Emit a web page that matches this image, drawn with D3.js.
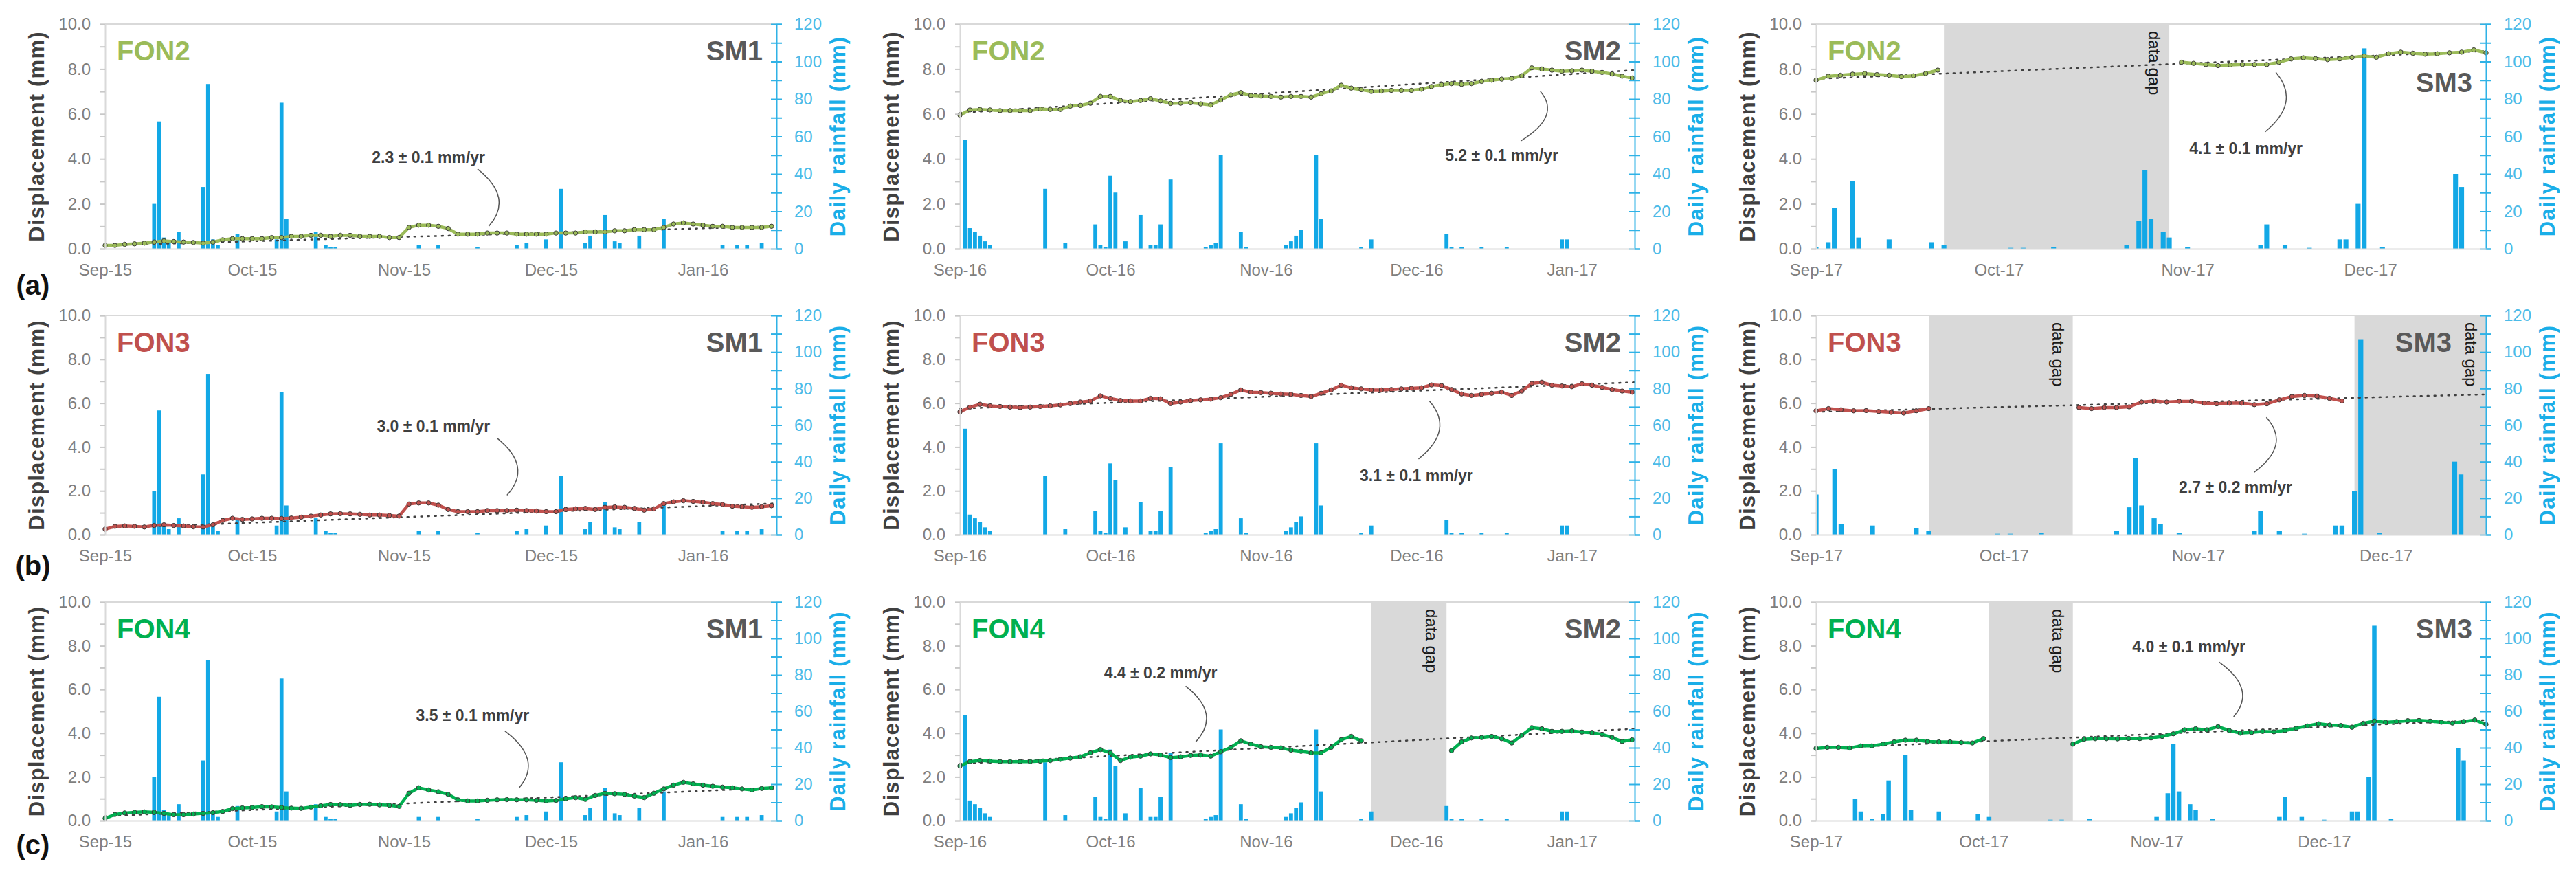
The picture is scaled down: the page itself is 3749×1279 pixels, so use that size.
<!DOCTYPE html>
<html>
<head>
<meta charset="utf-8">
<script src="https://cdn.jsdelivr.net/npm/d3@7"></script>
<style>
  body { margin: 0; background: #fff; }
  svg text { font-family: "Liberation Sans", Arial, sans-serif; }
</style>
</head>
<body>
<svg id="chart"></svg>
<script>
const width = 3749, height = 1279;

const stations = ["FON2", "FON3", "FON4"];
const campaigns = ["SM1", "SM2", "SM3"];
const campaignStart = ["2015-09-01", "2016-09-01", "2017-09-01"];
const rowLetters = ["(a)", "(b)", "(c)"];

// length of each panel's date axis in days [row][col]
const axisDays = [[137, 134.5, 110], [137, 134.5, 107], [137, 134.5, 120]];
// the rainfall bars sit on their own date axis, shifted by this many days
const rainAxisShift = [[0, 0, 0], [0, 0, 3], [0, 0, -10]];

// daily rainfall (mm)
const rainSM1 = [
  ["2015-09-11", 24], ["2015-09-12", 68], ["2015-09-13", 6], ["2015-09-14", 3], ["2015-09-16", 9],
  ["2015-09-21", 33], ["2015-09-22", 88], ["2015-09-23", 5], ["2015-09-24", 2], ["2015-09-28", 8],
  ["2015-10-06", 5], ["2015-10-07", 78], ["2015-10-08", 16], ["2015-10-14", 9], ["2015-10-16", 2],
  ["2015-10-17", 1], ["2015-10-18", 1], ["2015-11-04", 2], ["2015-11-08", 2], ["2015-11-16", 1],
  ["2015-11-24", 2], ["2015-11-26", 3], ["2015-11-30", 5], ["2015-12-03", 32], ["2015-12-08", 3],
  ["2015-12-09", 7], ["2015-12-12", 18], ["2015-12-14", 4], ["2015-12-15", 3], ["2015-12-19", 7],
  ["2015-12-24", 16], ["2016-01-05", 2], ["2016-01-08", 2], ["2016-01-10", 2], ["2016-01-13", 3]
];
const rainSM2 = [
  ["2016-09-02", 58], ["2016-09-03", 11], ["2016-09-04", 9], ["2016-09-05", 7], ["2016-09-06", 4],
  ["2016-09-07", 2], ["2016-09-18", 32], ["2016-09-22", 3], ["2016-09-28", 13], ["2016-09-29", 2],
  ["2016-09-30", 1], ["2016-10-01", 39], ["2016-10-02", 30], ["2016-10-04", 4], ["2016-10-07", 18],
  ["2016-10-09", 2], ["2016-10-10", 2], ["2016-10-11", 13], ["2016-10-13", 37], ["2016-10-20", 1],
  ["2016-10-21", 2], ["2016-10-22", 3], ["2016-10-23", 50], ["2016-10-27", 9], ["2016-10-28", 1],
  ["2016-11-05", 2], ["2016-11-06", 4], ["2016-11-07", 7], ["2016-11-08", 10], ["2016-11-11", 50],
  ["2016-11-12", 16], ["2016-11-20", 1], ["2016-11-22", 5], ["2016-12-07", 8], ["2016-12-08", 1],
  ["2016-12-10", 1], ["2016-12-14", 1], ["2016-12-19", 1], ["2016-12-30", 5], ["2016-12-31", 5]
];
const rainSM3 = [
  ["2017-08-29", 12], ["2017-08-30", 5], ["2017-09-01", 1], ["2017-09-03", 3.5], ["2017-09-04", 22],
  ["2017-09-07", 36], ["2017-09-08", 6], ["2017-09-13", 5], ["2017-09-20", 3.5], ["2017-09-22", 2],
  ["2017-10-03", 0.5], ["2017-10-05", 0.5], ["2017-10-10", 1], ["2017-10-22", 2], ["2017-10-24", 15],
  ["2017-10-25", 42], ["2017-10-26", 16], ["2017-10-28", 9], ["2017-10-29", 6], ["2017-11-01", 1],
  ["2017-11-13", 2], ["2017-11-14", 13], ["2017-11-17", 2], ["2017-11-21", 0.5], ["2017-11-26", 5],
  ["2017-11-27", 5], ["2017-11-29", 24], ["2017-11-30", 107], ["2017-12-03", 1], ["2017-12-15", 40],
  ["2017-12-16", 33]
];

// displacement (mm), one value every 2 days from the campaign start, null = no data
const sampleDays = 2;
const FON2_SM1 = [0.15,0.15,0.2,0.22,0.25,0.3,0.35,0.32,0.3,0.28,0.25,0.3,0.4,0.45,0.45,0.45,0.45,0.5,0.5,0.55,
  0.55,0.6,0.6,0.55,0.6,0.6,0.55,0.55,0.55,0.5,0.5,0.95,1.05,1.05,1.0,0.9,0.65,0.65,0.65,0.7,
  0.7,0.7,0.65,0.65,0.65,0.65,0.7,0.7,0.7,0.75,0.75,0.75,0.8,0.8,0.85,0.85,0.85,0.95,1.1,1.15,
  1.1,1.05,1.0,1.0,0.95,0.95,0.95,0.95,1.0];
const FON3_SM1 = [0.25,0.38,0.4,0.38,0.35,0.42,0.45,0.42,0.4,0.36,0.35,0.45,0.65,0.75,0.7,0.72,0.75,0.75,0.74,0.76,
  0.8,0.85,0.9,0.95,0.96,0.95,0.93,0.9,0.9,0.88,0.85,1.4,1.45,1.45,1.35,1.15,1.05,1.05,1.05,1.1,
  1.1,1.1,1.12,1.1,1.08,1.05,1.05,1.15,1.18,1.2,1.15,1.25,1.27,1.25,1.2,1.12,1.18,1.42,1.5,1.55,
  1.52,1.48,1.42,1.38,1.3,1.28,1.25,1.28,1.32];
const FON4_SM1 = [0.1,0.28,0.35,0.38,0.4,0.38,0.33,0.27,0.27,0.3,0.33,0.36,0.42,0.55,0.58,0.6,0.64,0.63,0.6,0.57,
  0.56,0.62,0.68,0.74,0.73,0.7,0.74,0.75,0.72,0.7,0.65,1.25,1.5,1.4,1.32,1.2,0.95,0.9,0.9,0.93,
  0.95,0.96,0.95,0.95,0.93,0.9,0.92,1.0,1.05,0.97,1.15,1.25,1.23,1.2,1.12,1.05,1.25,1.45,1.62,1.75,
  1.68,1.62,1.57,1.53,1.5,1.45,1.4,1.47,1.5];
const FON2_SM2 = [5.95,6.18,6.2,6.18,6.15,6.15,6.15,6.15,6.22,6.2,6.2,6.35,6.38,6.48,6.78,6.78,6.6,6.55,6.6,6.68,
  6.58,6.47,6.48,6.5,6.45,6.4,6.62,6.85,6.95,6.82,6.8,6.78,6.75,6.78,6.78,6.75,6.9,7.02,7.28,7.15,
  7.08,7.0,7.02,7.05,7.05,7.05,7.1,7.22,7.3,7.35,7.32,7.35,7.45,7.5,7.55,7.58,7.7,8.05,8.0,7.95,
  7.9,7.92,7.95,7.9,7.85,7.78,7.68,7.6];
const FON3_SM2 = [5.6,5.82,5.95,5.88,5.85,5.82,5.8,5.82,5.85,5.88,5.92,5.98,6.05,6.1,6.33,6.22,6.12,6.1,6.1,6.22,
  6.2,5.98,6.05,6.12,6.15,6.18,6.25,6.4,6.6,6.5,6.48,6.45,6.42,6.4,6.35,6.3,6.45,6.6,6.82,6.7,
  6.65,6.6,6.6,6.62,6.65,6.68,6.7,6.83,6.8,6.62,6.42,6.35,6.4,6.45,6.5,6.35,6.55,6.9,6.95,6.82,
  6.78,6.75,6.88,6.82,6.72,6.62,6.55,6.5];
const FON4_SM2 = [2.5,2.7,2.75,2.72,2.7,2.7,2.7,2.7,2.72,2.75,2.8,2.86,2.92,3.1,3.25,3.1,2.75,2.9,2.95,3.05,
  3.0,2.88,2.92,2.98,3.0,2.95,3.15,3.35,3.65,3.5,3.38,3.35,3.33,3.22,3.17,3.1,3.1,3.35,3.7,3.85,
  3.65,null,null,null,null,null,null,null,null,3.2,3.6,3.78,3.8,3.85,3.75,3.55,3.9,4.25,4.2,4.08,
  4.08,4.1,4.05,4.02,3.95,3.8,3.62,3.7];
const FON2_SM3 = [7.5,7.68,7.72,7.77,7.8,7.75,7.72,7.66,7.7,7.8,7.95,null,null,null,null,null,null,null,null,null,
  null,null,null,null,null,null,null,null,null,null,8.3,8.25,8.2,8.15,8.18,8.2,8.2,8.2,8.3,8.45,
  8.5,8.46,8.42,8.45,8.52,8.58,8.52,8.68,8.75,8.7,8.66,8.68,8.72,8.75,8.85,8.72];
const FON3_SM3 = [5.65,5.75,5.7,5.65,5.66,5.62,5.58,5.55,5.65,5.75,null,null,null,null,null,null,null,null,null,null,
  null,5.8,5.75,5.8,5.8,5.83,6.05,6.1,6.05,6.08,6.08,6.0,5.97,6.0,6.0,5.93,5.97,6.15,6.3,6.35,
  6.32,6.22,6.1,null,null,null,null,null,null,null,null,null,null,null];
const FON4_SM3 = [3.3,3.35,3.35,3.32,3.42,3.42,3.5,3.6,3.68,3.68,3.62,3.6,3.6,3.57,3.55,3.75,null,null,null,null,
  null,null,null,3.5,3.72,3.75,3.75,3.74,3.76,3.75,3.78,3.85,3.97,4.15,4.2,4.15,4.3,4.12,4.0,4.03,
  4.08,4.06,4.12,4.22,4.33,4.43,4.37,4.35,4.27,4.45,4.55,4.5,4.53,4.57,4.58,4.55,4.5,4.46,4.53,4.6,
  4.4];

// linear trend, value at axis start and axis end (mm)
const trendEnds = [
  [[0.15, 1.0], [6.05, 7.95], [7.56, 8.8]],
  [[0.3, 1.43], [5.75, 6.95], [5.6, 6.4]],
  [[0.2, 1.5], [2.6, 4.2], [3.3, 4.6]]
];
const rateLabels = [
  ["2.3 ± 0.1 mm/yr", "5.2 ± 0.1 mm/yr", "4.1 ± 0.1 mm/yr"],
  ["3.0 ± 0.1 mm/yr", "3.1 ± 0.1 mm/yr", "2.7 ± 0.2 mm/yr"],
  ["3.5 ± 0.1 mm/yr", "4.4 ± 0.2 mm/yr", "4.0 ± 0.1 mm/yr"]
];
// rate label centre and leader line ends, as [day, mm]
const rateLabelAt = [
  [[66, 4.0], [108, 4.1], [70.6, 4.4]],
  [[67, 4.9], [91, 2.65], [67, 2.1]],
  [[75, 4.75], [40, 6.7], [66.8, 7.9]]
];
const leaderFrom = [
  [[76, 3.55], [111.8, 4.8], [73.7, 5.2]],
  [[80, 4.4], [91.4, 3.45], [70, 2.85]],
  [[81.6, 4.1], [45, 6.15], [72.2, 7.25]]
];
const leaderTo = [
  [[78.3, 1.0], [115.7, 7.0], [75.5, 7.85]],
  [[82, 1.8], [93.6, 6.1], [71.9, 5.35]],
  [[84.5, 1.5], [47, 3.6], [74.8, 4.75]]
];
const dataGaps = [
  [[], [], [["2017-09-22", "2017-10-29"]]],
  [[], [], [["2017-09-19", "2017-10-12"], ["2017-11-26", "2017-12-17"]]],
  [[], [["2016-11-22", "2016-12-07"]], [["2017-10-02", "2017-10-17"]]]
];

const displacement = [
  [FON2_SM1, FON2_SM2, FON2_SM3],
  [FON3_SM1, FON3_SM2, FON3_SM3],
  [FON4_SM1, FON4_SM2, FON4_SM3]
];
const rainfall = [rainSM1, rainSM2, rainSM3];

// layout
const colX = [[153, 1130], [1397, 2379], [2643, 3618]];
const rowY = [[35, 362], [459, 778], [876, 1194]];
const letterY = [418, 826, 1232];
const stationColor = ["#9bbb59", "#c0504d", "#00b050"];
const rainColor = "#12a8e6";
const rainAxisColor = "#2fb2e6";
const tickGrey = "#7f7f7f";

const parse = d3.utcParse("%Y-%m-%d");
const dayAt = (start, d) => d3.utcHour.offset(start, Math.round(d * 24));

const svg = d3.select("#chart").attr("width", width).attr("height", height);
svg.append("rect").attr("width", width).attr("height", height).attr("fill", "#fff");

rowLetters.forEach((t, r) => {
  svg.append("text").attr("x", 48).attr("y", letterY[r])
    .attr("text-anchor", "middle").attr("dominant-baseline", "middle")
    .attr("font-size", 40).attr("font-weight", "bold").attr("fill", "#111").text(t);
});

for (let r = 0; r < 3; r++) {
  for (let c = 0; c < 3; c++) {
    const [x0, x1] = colX[c];
    const [y0, y1] = rowY[r];
    const start = parse(campaignStart[c]);
    const end = dayAt(start, axisDays[r][c]);
    const x = d3.scaleUtc().domain([start, end]).range([x0, x1]);
    const rainStart = dayAt(start, rainAxisShift[r][c]);
    const xr = d3.scaleUtc().domain([rainStart, dayAt(rainStart, axisDays[r][c])]).range([x0, x1]);
    const y = d3.scaleLinear().domain([0, 10]).range([y1, y0]);
    const y2 = d3.scaleLinear().domain([0, 120]).range([y1, y0]);
    const g = svg.append("g");

    const clipId = `clip-${r}-${c}`;
    g.append("clipPath").attr("id", clipId)
      .append("rect").attr("x", x0).attr("y", y0 - 2).attr("width", x1 - x0).attr("height", y1 - y0 + 2);

    // data gap bands
    dataGaps[r][c].forEach(([a, b]) => {
      const ga = Math.max(x0, x(parse(a))), gb = Math.min(x1, x(parse(b)));
      g.append("rect").attr("x", ga).attr("y", y0).attr("width", gb - ga).attr("height", y1 - y0)
        .attr("fill", "#d9d9d9");
    });

    // top border
    g.append("line").attr("x1", x0).attr("x2", x1).attr("y1", y0).attr("y2", y0)
      .attr("stroke", "#d9d9d9").attr("stroke-width", 2);

    // rainfall bars
    const dayPx = xr(dayAt(rainStart, 1)) - xr(rainStart);
    const bw = dayPx * 0.8;
    g.append("g").attr("clip-path", `url(#${clipId})`)
      .selectAll("rect").data(rainfall[c]).join("rect")
      .attr("x", d => xr(parse(d[0])) - bw / 2)
      .attr("y", d => y2(d[1]))
      .attr("width", bw)
      .attr("height", d => y2(0) - y2(d[1]))
      .attr("fill", rainColor);

    // trend line
    const tr = trendEnds[r][c];
    g.append("line").attr("x1", x(start)).attr("x2", x(end))
      .attr("y1", y(tr[0])).attr("y2", y(tr[1]))
      .attr("stroke", "#404040").attr("stroke-width", 2.5)
      .attr("stroke-dasharray", "2,8").attr("stroke-linecap", "round");

    // displacement series
    const pts = displacement[r][c].map((v, i) => ({ t: dayAt(start, i * sampleDays), v }));
    const line = d3.line().defined(d => d.v != null).x(d => x(d.t)).y(d => y(d.v));
    g.append("path").datum(pts).attr("d", line)
      .attr("fill", "none").attr("stroke", stationColor[r]).attr("stroke-width", 4.5);
    g.append("g").selectAll("circle").data(pts.filter(d => d.v != null)).join("circle")
      .attr("cx", d => x(d.t)).attr("cy", d => y(d.v)).attr("r", 3.2)
      .attr("fill", stationColor[r]).attr("stroke", "#3a3a3a").attr("stroke-width", 1);

    // left axis
    const leftAxis = d3.axisLeft(y).tickValues(d3.range(0, 11, 1))
      .tickFormat(d => d % 2 === 0 ? d.toFixed(1) : "").tickSize(7).tickPadding(14);
    const la = g.append("g").attr("transform", `translate(${x0},0)`).call(leftAxis);
    la.select(".domain").attr("stroke", "#d9d9d9").attr("stroke-width", 2);
    la.selectAll(".tick line").attr("stroke", "#c8c8c8").attr("stroke-width", 2);
    la.selectAll(".tick text").attr("font-size", 24).attr("fill", tickGrey)
      .attr("font-family", "Liberation Sans, Arial, sans-serif");

    // right axis (rainfall)
    const rightAxis = d3.axisRight(y2).tickValues(d3.range(0, 121, 10))
      .tickFormat(d => d % 20 === 0 ? d : "").tickSize(8).tickPadding(18);
    const ra = g.append("g").attr("transform", `translate(${x1},0)`).call(rightAxis);
    ra.select(".domain").attr("stroke", rainAxisColor).attr("stroke-width", 2);
    ra.selectAll(".tick line").attr("x1", -8).attr("stroke", rainAxisColor).attr("stroke-width", 2);
    ra.selectAll(".tick text").attr("font-size", 24).attr("fill", "#4cbbe8")
      .attr("font-family", "Liberation Sans, Arial, sans-serif");

    // bottom axis
    const bottomAxis = d3.axisBottom(x).ticks(d3.utcMonth.every(1))
      .tickFormat(d3.utcFormat("%b-%y")).tickSize(0).tickPadding(22);
    const ba = g.append("g").attr("transform", `translate(0,${y1})`).call(bottomAxis);
    ba.select(".domain").attr("stroke", "#d9d9d9").attr("stroke-width", 2);
    ba.selectAll(".tick text").attr("font-size", 24).attr("fill", tickGrey)
      .attr("font-family", "Liberation Sans, Arial, sans-serif");

    // axis titles
    const ym = (y0 + y1) / 2;
    g.append("text").attr("transform", `translate(${x0 - 97},${ym}) rotate(-90)`)
      .attr("text-anchor", "middle").attr("dominant-baseline", "middle")
      .attr("font-size", 31).attr("font-weight", "bold").attr("letter-spacing", 1.2)
      .attr("fill", "#404040").text("Displacement (mm)");
    g.append("text").attr("transform", `translate(${x1 + 92},${ym}) rotate(-90)`)
      .attr("text-anchor", "middle").attr("dominant-baseline", "middle")
      .attr("font-size", 31).attr("font-weight", "bold").attr("letter-spacing", 1.2)
      .attr("fill", "#1aaee8").text("Daily rainfall (mm)");

    // station and campaign labels
    g.append("text").attr("x", x0 + 17).attr("y", y0 + 53)
      .attr("font-size", 40).attr("font-weight", "bold").attr("fill", stationColor[r])
      .text(stations[r]);
    let smDx = 0, smDy = 0;
    if (r === 0 && c === 2) smDy = 46;
    if (r === 1 && c === 2) smDx = -30;
    g.append("text").attr("x", x1 - 20 + smDx).attr("y", y0 + 53 + smDy)
      .attr("text-anchor", "end")
      .attr("font-size", 40).attr("font-weight", "bold").attr("fill", "#595959")
      .text(campaigns[c]);

    // data gap notes
    dataGaps[r][c].forEach(([a, b]) => {
      const gb = Math.min(x1, x(parse(b)));
      g.append("text").attr("transform", `translate(${gb - 30},${y0 + 10}) rotate(90)`)
        .attr("font-size", 24).attr("fill", "#1a1a1a").text("data gap");
    });

    // rate annotation with curved leader
    const la0 = rateLabelAt[r][c], lf = leaderFrom[r][c], lt = leaderTo[r][c];
    g.append("text").attr("x", x(dayAt(start, la0[0]))).attr("y", y(la0[1]))
      .attr("text-anchor", "middle").attr("dominant-baseline", "middle")
      .attr("font-size", 23).attr("font-weight", "bold").attr("fill", "#3f3f3f")
      .text(rateLabels[r][c]);
    const p0 = [x(dayAt(start, lf[0])), y(lf[1])];
    const p1 = [x(dayAt(start, lt[0])), y(lt[1])];
    const path = d3.path();
    path.moveTo(p0[0], p0[1]);
    path.quadraticCurveTo((p0[0] + p1[0]) / 2 + 45, (p0[1] + p1[1]) / 2, p1[0], p1[1]);
    g.append("path").attr("d", path.toString())
      .attr("fill", "none").attr("stroke", "#555").attr("stroke-width", 1.5);
  }
}
</script>
</body>
</html>
